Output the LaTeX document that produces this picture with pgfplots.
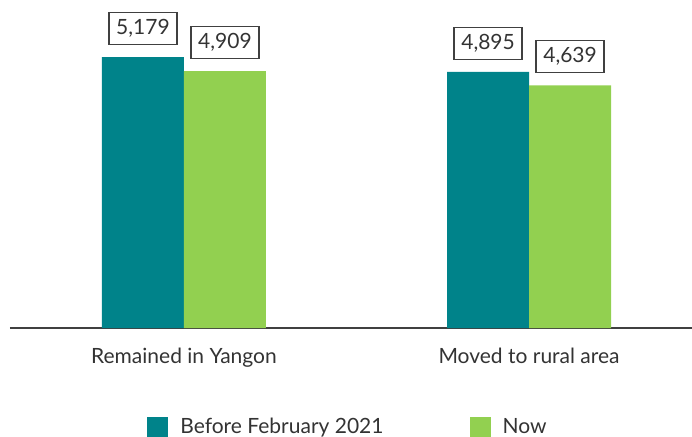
\documentclass[border=0pt]{standalone}
\usepackage{pgfplots}
\pgfplotsset{compat=1.18}
\usepackage{fontspec}
\setmainfont{Lato}
\definecolor{tealbar}{HTML}{00838A}
\definecolor{greenbar}{HTML}{92D050}
\definecolor{axisgray}{HTML}{404040}
\begin{document}
\fontsize{10.5}{12.6}\selectfont
\begin{tikzpicture}
\begin{axis}[
    scale only axis,
    width=341pt, height=164pt,
    ybar=0pt,
    bar width=41pt,
    xmin=-0.504, xmax=1.472,
    ymin=0, ymax=6270,
    xtick={0,1},
    xticklabels={Remained in Yangon, Moved to rural area},
    major tick length=0pt,
    xticklabel style={anchor=base, yshift=-17.5pt, text=axisgray!80!black},
    axis x line=bottom,
    axis line style={-, axisgray, line width=0.8pt},
    hide y axis,
    clip=false,
    /pgf/number format/assume math mode=true,
    nodes near coords={\pgfmathprintnumber[1000 sep={,}]{\pgfplotspointmeta}},
    every node near coord/.append style={draw=axisgray, line width=0.7pt,
        anchor=south, yshift=6pt, inner sep=0pt,
        minimum width=34pt, minimum height=16pt, text=axisgray!80!black},
    legend columns=2,
    legend style={draw=none, at={(rel axis cs:0.497,-0.303)}, anchor=center,
        /tikz/every odd column/.append style={column sep=4pt},
        /tikz/every even column/.append style={column sep=41pt},
        font=\color{axisgray!80!black}},
    legend image code/.code={\fill[#1] (0pt,-5.25pt) rectangle (10.5pt,5.25pt);},
]
\addplot[fill=tealbar, draw=none] coordinates {(0,5179) (1,4895)};
\addplot[fill=greenbar, draw=none] coordinates {(0,4909) (1,4639)};
\legend{Before February 2021, Now}
\end{axis}
\pgfresetboundingbox
\path (current axis.south west) ++(-5pt,-54pt) coordinate (bl);
\path (current axis.north east) coordinate (tr);
\useasboundingbox (bl) rectangle (tr);
\end{tikzpicture}
\end{document}
